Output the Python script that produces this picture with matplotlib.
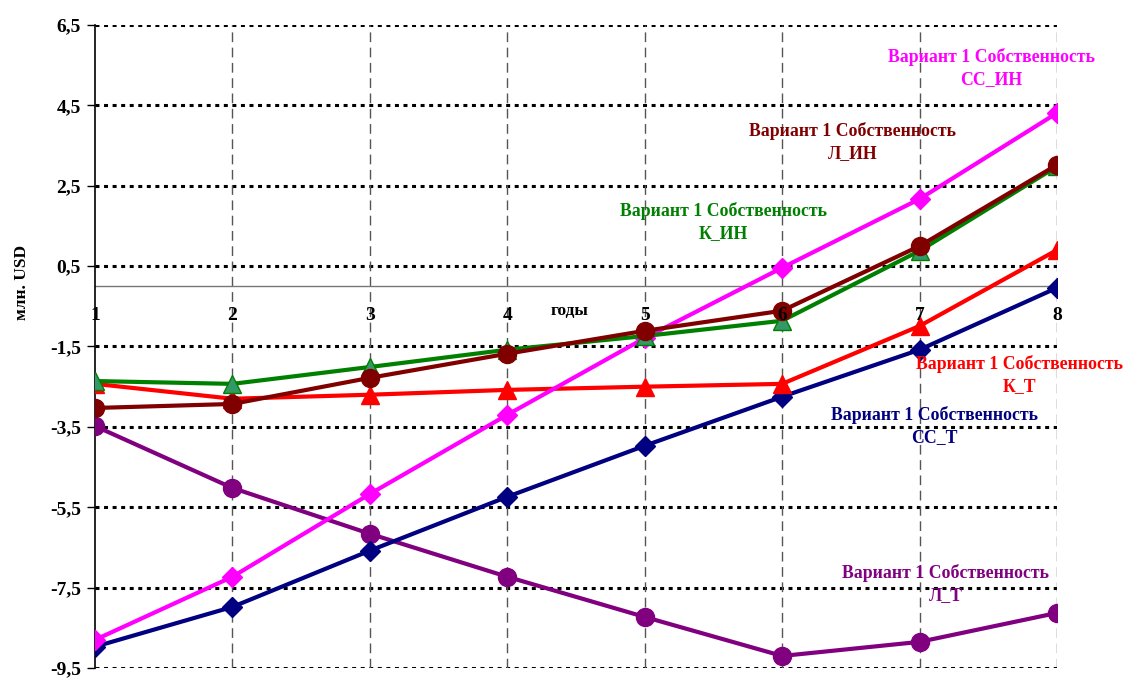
import matplotlib
matplotlib.use("Agg")
from matplotlib import pyplot as plt
import numpy as np

plt.rcParams['font.family'] = ['Liberation Serif', 'DejaVu Serif']
plt.rcParams['font.weight'] = 'bold'

# years and series values (млн. USD)
years = [1, 2, 3, 4, 5, 6, 7, 8]
year_labels = ['1', '2', '3', '4', '5', '6', '7', '8']

cc_t = [-8.97, -7.98, -6.58, -5.24, -3.97, -2.75, -1.58, -0.04]
l_t = [-3.48, -5.02, -6.16, -7.23, -8.23, -9.20, -8.85, -8.13]
k_t = [-2.43, -2.80, -2.70, -2.58, -2.50, -2.43, -0.99, 0.90]
cc_in = [-8.80, -7.23, -5.17, -3.20, -1.29, 0.46, 2.17, 4.31]
k_in = [-2.36, -2.43, -2.01, -1.58, -1.24, -0.86, 0.88, 2.98]
l_in = [-3.03, -2.93, -2.28, -1.68, -1.11, -0.61, 1.00, 3.02]

y_ticks = [6.5, 4.5, 2.5, 0.5, -1.5, -3.5, -5.5, -7.5, -9.5]

fig = plt.figure(figsize=(11.39, 6.79), dpi=100)
ax = fig.add_axes([0.0834, 0.0162, 0.8446, 0.9470])
ax.set_xlim(1, 8)
ax.set_ylim(-9.5, 6.5)

# grid: dotted horizontals, dashed verticals, thin zero line
for yv in y_ticks:
    ax.plot([1, 8], [yv, yv], color='black', lw=2.2, linestyle=(0, (1.3, 1.5)), zorder=1)
for xv in years[1:]:
    ax.plot([xv, xv], [-9.5, 6.5], color='#555555', lw=1, linestyle=(0, (7, 4)), zorder=1)
ax.plot([1, 8], [0, 0], color='#777777', lw=1, zorder=1)

lw = 3
ax.plot(years, l_t, color='#800080', lw=lw, marker='o', ms=13, zorder=3)
ax.plot(years, cc_t, color='#000080', lw=lw, marker='D', ms=10, zorder=3)
ax.plot(years, k_t, color='#FF0000', lw=lw, marker='^', ms=13, zorder=3)
ax.plot(years, cc_in, color='#FF00FF', lw=lw, marker='D', ms=10, zorder=4)
ax.plot(years, k_in, color='#008000', lw=lw, marker='^', ms=13,
        markerfacecolor='#339966', markeredgecolor='#008000', markeredgewidth=1, zorder=4)
ax.plot(years, l_in, color='#800000', lw=lw, marker='o', ms=13, zorder=5)

# series captions
fs = 12.8
captions = [
    (7.52, 5.43, 'Вариант 1 Собственность\nСС_ИН', '#FF00FF'),
    (6.51, 3.59, 'Вариант 1 Собственность\nЛ_ИН', '#800000'),
    (5.57, 1.60, 'Вариант 1 Собственность\nК_ИН', '#008000'),
    (7.73, -2.21, 'Вариант 1 Собственность\nК_Т', '#FF0000'),
    (7.11, -3.48, 'Вариант 1 Собственность\nСС_Т', '#000080'),
    (7.19, -7.41, 'Вариант 1 Собственность\nЛ_Т', '#800080'),
]
for cx, cy, txt, col in captions:
    ax.text(cx, cy, txt, color=col, fontsize=fs, fontweight='bold',
            ha='center', va='center', linespacing=1.35, zorder=6)

# category labels sit just under the zero line
for xv, lab in zip(years, year_labels):
    ax.text(xv, -0.72, lab, fontsize=14, fontweight='bold', ha='center', va='center', zorder=6)
ax.text(4.45, -0.62, 'годы', fontsize=12.5, fontweight='bold', ha='center', va='center', zorder=6)

ax.set_xticks([])
ax.set_yticks(y_ticks)
ax.set_yticklabels([str(v).replace('.', ',') for v in y_ticks], fontsize=14, fontweight='bold')
ax.tick_params(axis='y', direction='out', length=6, width=1, pad=4)
ax.spines['top'].set_visible(False)
ax.spines['right'].set_visible(False)
ax.spines['bottom'].set_visible(False)
ax.spines['left'].set_linewidth(1.2)
ax.set_ylabel('млн. USD', fontsize=12.5, fontweight='bold')
ax.yaxis.set_label_coords(-0.068, 0.6)

plt.savefig('out.png', dpi=100)
